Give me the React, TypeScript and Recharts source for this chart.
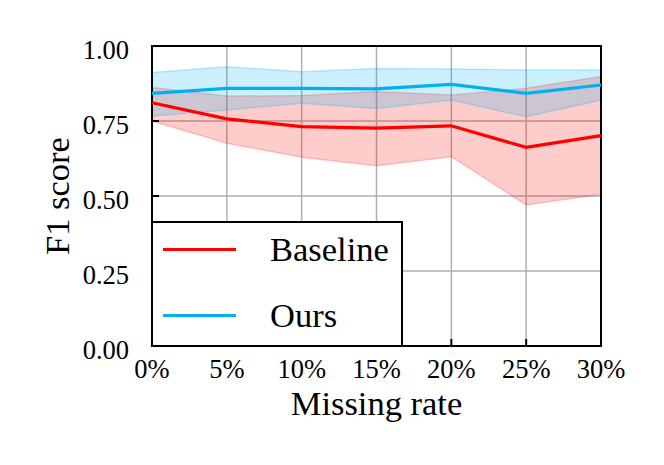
import React from 'react';
import {
  ComposedChart,
  Area,
  Line,
  XAxis,
  YAxis,
  CartesianGrid,
  Legend,
  ReferenceArea,
} from 'recharts';

const rates = [0, 5, 10, 15, 20, 25, 30];
const baselineMean = [0.811, 0.757, 0.731, 0.726, 0.734, 0.662, 0.701];
const baselineLow = [0.75, 0.676, 0.629, 0.601, 0.631, 0.47, 0.506];
const baselineHigh = [0.862, 0.833, 0.835, 0.848, 0.837, 0.859, 0.898];
const oursMean = [0.842, 0.859, 0.859, 0.857, 0.872, 0.842, 0.87];
const oursLow = [0.767, 0.787, 0.809, 0.792, 0.82, 0.764, 0.82];
const oursHigh = [0.912, 0.931, 0.914, 0.925, 0.923, 0.92, 0.92];
const yTicks = [0, 0.25, 0.5, 0.75, 1];
const seriesNames = ['Baseline', 'Ours'];
const seriesColors = ['#ff0000', '#00b0f0'];

const data = rates.map((r, i) => ({
  rate: r,
  baseline: baselineMean[i],
  baselineBand: [baselineLow[i], baselineHigh[i]],
  ours: oursMean[i],
  oursBand: [oursLow[i], oursHigh[i]],
}));

const FONT = '"Liberation Serif", "Times New Roman", serif';
const TICK_FS = 26.5;
const LABEL_FS = 34.5;

const YTick = (props: any) => {
  const { x, y, payload } = props;
  return (
    <g>
      <line x1={x + 23} x2={x + 30} y1={y} y2={y} stroke="#000" strokeWidth={2} />
      <text x={x} y={y + 12.5} textAnchor="end" fontSize={TICK_FS} fontFamily={FONT} fill="#000">
        {Number(payload.value).toFixed(2)}
      </text>
    </g>
  );
};

const XTick = (props: any) => {
  const { x, y, payload } = props;
  return (
    <g>
      <line x1={x} x2={x} y1={y} y2={y - 7} stroke="#000" strokeWidth={2} />
      <text x={x} y={y + 32} textAnchor="middle" fontSize={TICK_FS} fontFamily={FONT} fill="#000">
        {`${payload.value}%`}
      </text>
    </g>
  );
};

const renderLegend = (props: any) => {
  const items = (props.payload || []).filter((p: any) => p.type !== 'none');
  const list = items.length
    ? items.map((p: any) => ({ name: p.value, color: p.color }))
    : seriesNames.map((n, i) => ({ name: n, color: seriesColors[i] }));
  return (
    <div
      style={{
        width: 252,
        height: 126,
        border: '2px solid #000',
        background: '#fff',
        boxSizing: 'border-box',
        position: 'relative',
        fontFamily: FONT,
        fontSize: LABEL_FS,
        color: '#000',
      }}
    >
      {list.map((it: any, i: number) => (
        <div key={it.name} style={{ position: 'absolute', left: 0, top: 26 + i * 66 - 20, height: 40, width: 250 }}>
          <div
            style={{
              position: 'absolute',
              left: 10,
              top: 18.5,
              width: 73,
              height: 3,
              background: it.color,
            }}
          />
          <div style={{ position: 'absolute', left: 117, top: 0, lineHeight: '40px', whiteSpace: 'nowrap' }}>{it.name}</div>
        </div>
      ))}
    </div>
  );
};

export default function App() {
  return (
    <div style={{ position: 'absolute', left: 0, top: 0, width: 664, height: 465, background: '#fff' }}>
      <ComposedChart
        width={664}
        height={465}
        data={data}
        margin={{ top: 46, right: 63, left: 0, bottom: 0 }}
        style={{ fontFamily: FONT }}
      >
        <Area
          type="linear"
          dataKey="baselineBand"
          stroke="#ff0000"
          strokeOpacity={0.2}
          strokeWidth={1.5}
          fill="#ff0000"
          fillOpacity={0.2}
          isAnimationActive={false}
          legendType="none"
          dot={false}
          activeDot={false}
        />
        <Area
          type="linear"
          dataKey="oursBand"
          stroke="#00b0f0"
          strokeOpacity={0.25}
          strokeWidth={1.5}
          fill="#00b0f0"
          fillOpacity={0.2}
          isAnimationActive={false}
          legendType="none"
          dot={false}
          activeDot={false}
        />
        <CartesianGrid stroke="#b0b0b0" strokeWidth={1.5} />
        <XAxis
          type="number"
          dataKey="rate"
          domain={[0, 30]}
          ticks={rates}
          height={119}
          tickSize={0}
          tickMargin={0}
          tickLine={false}
          axisLine={false}
          tick={<XTick />}
          interval={0}
          label={(p: any) => {
            const vb = p.viewBox || { x: 152, y: 346, width: 449 };
            return (
              <text x={vb.x + vb.width / 2} y={vb.y + 69} textAnchor="middle" fontSize={LABEL_FS} fontFamily={FONT} fill="#000">
                Missing rate
              </text>
            );
          }}
        />
        <YAxis
          type="number"
          domain={[0, 1]}
          ticks={yTicks}
          width={152}
          tickSize={0}
          tickMargin={23}
          tickLine={false}
          axisLine={false}
          tick={<YTick />}
          interval={0}
          label={() => (
            <text
              x={69}
              y={196}
              transform="rotate(-90 69 196)"
              textAnchor="middle"
              fontSize={LABEL_FS}
              fontFamily={FONT}
              fill="#000"
            >
              F1 score
            </text>
          )}
        />
        <Line
          type="linear"
          dataKey="baseline"
          name={seriesNames[0]}
          stroke={seriesColors[0]}
          strokeWidth={3.2}
          dot={false}
          activeDot={false}
          isAnimationActive={false}
        />
        <Line
          type="linear"
          dataKey="ours"
          name={seriesNames[1]}
          stroke={seriesColors[1]}
          strokeWidth={3.2}
          dot={false}
          activeDot={false}
          isAnimationActive={false}
        />
        <ReferenceArea x1={0} x2={30} y1={0} y2={1} fill="none" stroke="#000" strokeWidth={2} ifOverflow="visible" />
        <Legend
          layout="horizontal"
          verticalAlign="middle"
          align="center"
          content={renderLegend}
          wrapperStyle={{ position: 'absolute', left: 151, top: 221, width: 252, height: 126 }}
        />
      </ComposedChart>
    </div>
  );
}
